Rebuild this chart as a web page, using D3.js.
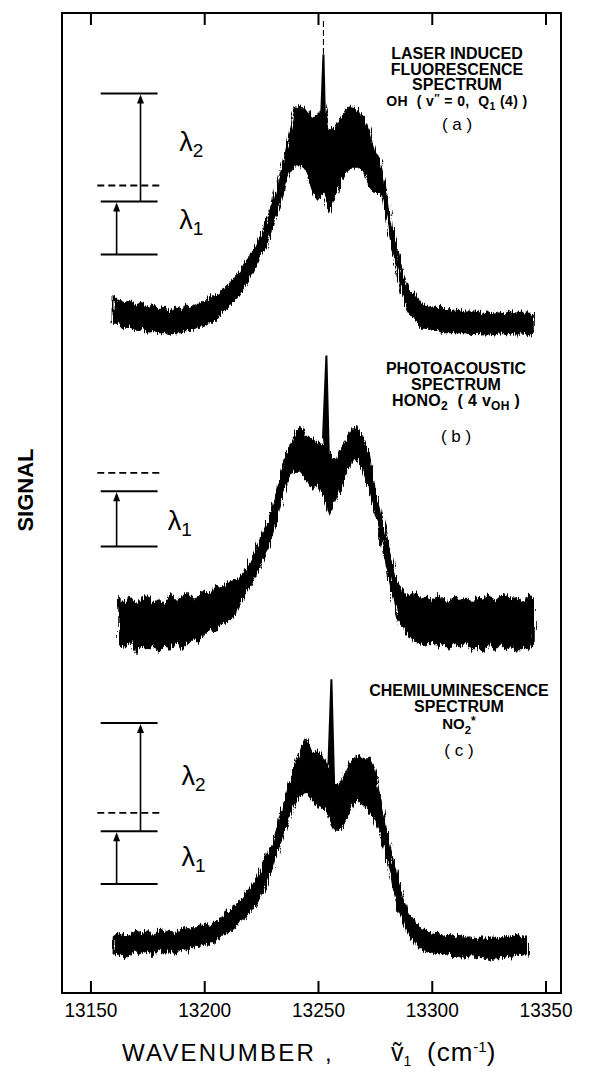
<!DOCTYPE html>
<html>
<head>
<meta charset="utf-8">
<script src="https://cdn.jsdelivr.net/npm/d3@7"></script>
<style>
  html, body { margin: 0; padding: 0; background: #fff; }
  svg { display: block; font-family: "Liberation Sans", Arial, Helvetica, sans-serif; }
  text { white-space: pre; }
</style>
</head>
<body>
<svg id="chart" width="590" height="1073"></svg>
<script>
// ---- sampled spectra (wavenumber in cm^-1, relative signal 0..100 per trace) ----
const wavenumbers = [
  13160, 13162.5, 13165, 13167.5, 13170, 13172.5, 13175, 13177.5, 13180, 13182.5,
  13185, 13187.5, 13190, 13192.5, 13195, 13197.5, 13200, 13202.5, 13205, 13207.5,
  13210, 13212.5, 13215, 13217.5, 13220, 13222.5, 13225, 13227.5, 13230, 13232.5,
  13235, 13237.5, 13240, 13242.5, 13245, 13247.5, 13250, 13252.5, 13255, 13257.5,
  13260, 13262.5, 13265, 13267.5, 13270, 13272.5, 13275, 13277.5, 13280, 13282.5,
  13285, 13287.5, 13290, 13292.5, 13295, 13297.5, 13300, 13302.5, 13305, 13307.5,
  13310, 13312.5, 13315, 13317.5, 13320, 13322.5, 13325, 13327.5, 13330, 13332.5,
  13335, 13337.5, 13340, 13342.5, 13345
];

// (a) OH laser induced fluorescence: upper and lower edge of the noisy trace
const ohHigh = [17,15,14,15,13,14,11,13,11,12, 10,12,11,13,12,14,14,17,17,19,
  21,24,27,31,34,38,43,50,57,67, 76,87,99,100,97,94,96,100,89,90,
  94,98,100,97,95,89,80,74,63,48, 36,26,20,18,14,13,12,13,11,11,
  10,11,10,10,10,9,10,9,10,9, 10,9,10,9,9];
const ohLow = [6,5,3,4,2,3,1,2,1,1, 0,1,1,2,2,3,4,6,6,10,
  12,14,17,21,24,29,34,39,47,55, 64,71,74,74,70,63,59,62,54,61,
  67,71,73,73,71,65,62,62,52,38, 27,17,10,7,3,3,2,2,1,1,
  1,1,1,0,1,0,0,0,1,0, 1,0,1,0,1];
const ohPeakWn = [13251.2, 13252.4, 13253.6];
const ohPeakSignal = [90, 122, 70];

// (b) HONO2 photoacoustic
const honoHigh = [null,23,20,23,20,22,24,20,22,20, 24,21,23,25,22,23,26,24,28,27,
  29,30,31,34,38,43,49,55,62,71, 81,89,95,97,93,92,90,89,85,82,
  87,92,96,97,91,85,71,61,50,39, 29,26,23,25,22,23,21,24,22,20,
  24,21,23,20,23,22,24,21,23,24, 22,23,20,24,22];
const honoLow = [null,3,1,4,-1,2,0,3,-1,2, 0,4,0,3,5,3,7,9,8,11,
  12,14,20,23,27,32,37,43,50,60, 69,76,78,77,74,70,73,67,59,65,
  70,78,82,83,78,69,59,48,37,25, 14,9,6,4,3,2,4,1,3,0,
  3,1,4,0,2,-1,3,0,3,0, 2,-1,2,0,3];
const honoPeakWn = [13252.2, 13253.7, 13255.2];
const honoPeakSignal = [92, 128, 66];

// (c) NO2* chemiluminescence
const no2High = [10,12,10,11,13,11,13,10,13,12, 13,11,14,13,14,14,16,15,17,18,
  21,23,25,28,31,35,40,46,51,60, 68,77,85,92,96,90,91,87,83,76,
  77,82,87,89,87,88,83,70,58,46, 35,26,20,17,14,13,11,12,10,11,
  10,11,10,10,9,10,9,10,9,10, 10,11,10,10,null];
const no2Low = [2,3,1,3,4,3,4,2,5,3, 4,3,5,4,6,6,7,7,9,10,
  12,13,16,18,21,24,28,33,40,48, 56,63,68,72,73,70,67,66,63,56,
  57,61,67,70,67,65,61,55,45,34, 23,17,11,8,5,4,3,3,2,3,
  1,2,1,2,1,1,0,1,1,2, 1,3,2,3,null];
const no2PeakWn = [13254.6, 13255.9, 13257.2];
const no2PeakSignal = [85, 122, 72];

const tickValues = [13150, 13200, 13250, 13300, 13350];

// ---- layout ----
const frame = { left: 62, right: 561, top: 13, bottom: 993 };
const svg = d3.select("#chart");

// ragged edge texture for the recorded traces
const defs = svg.append("defs");
const grain = defs.append("filter").attr("id", "grain")
  .attr("x", "-5%").attr("y", "-10%").attr("width", "110%").attr("height", "120%");
grain.append("feTurbulence")
  .attr("type", "fractalNoise").attr("baseFrequency", "0.7 0.06")
  .attr("numOctaves", 2).attr("seed", 7).attr("result", "noise");
grain.append("feDisplacementMap")
  .attr("in", "SourceGraphic").attr("in2", "noise")
  .attr("scale", 9).attr("xChannelSelector", "R").attr("yChannelSelector", "G");

const x = d3.scaleLinear().domain([13137.5, 13356.8]).range([frame.left, frame.right]);

// each trace gets its own vertical band inside the common frame
const panels = [
  {
    high: ohHigh, low: ohLow, peakWn: ohPeakWn, peakSignal: ohPeakSignal,
    range: [335, 105], markerAbovePeak: true,
    levels: [35, 58, 105], virtual: 65, labelWn: 13189, labelSignal: [50, 84],
    title: [
      { size: 16, weight: "bold", dy: 0, segs: [["LASER INDUCED"]] },
      { size: 16, weight: "bold", dy: 15.5, segs: [["FLUORESCENCE"]] },
      { size: 16, weight: "bold", dy: 30.5, segs: [["SPECTRUM"]] },
      { size: 14, weight: "bold", dy: 47, ls: 0.4, segs: [["OH  ( v"], ["\u2033", "sup"], [" = 0,  Q"], ["1", "sub"], [" (4) )"]] },
      { size: 17, weight: "normal", dy: 71, segs: [["( a )"]] }
    ],
    titleX: 457, titleY: 59
  },
  {
    high: honoHigh, low: honoLow, peakWn: honoPeakWn, peakSignal: honoPeakSignal,
    range: [650, 420],
    levels: [45, 69], virtual: 77, labelWn: 13184, labelSignal: [56],
    title: [
      { size: 16, weight: "bold", dy: 0, segs: [["PHOTOACOUSTIC"]] },
      { size: 16, weight: "bold", dy: 15.5, segs: [["SPECTRUM"]] },
      { size: 16, weight: "bold", dy: 31.5, ls: 0.3, segs: [["HONO"], ["2", "sub"], ["  ( 4 v"], ["OH", "sub"], [" )"]] },
      { size: 17, weight: "normal", dy: 68, segs: [["( b )"]] }
    ],
    titleX: 456, titleY: 374
  },
  {
    high: no2High, low: no2Low, peakWn: no2PeakWn, peakSignal: no2PeakSignal,
    range: [960, 730],
    levels: [33, 56, 103], virtual: 64, labelWn: 13190, labelSignal: [45, 80],
    title: [
      { size: 16, weight: "bold", dy: 0, segs: [["CHEMILUMINESCENCE"]] },
      { size: 16, weight: "bold", dy: 16, segs: [["SPECTRUM"]] },
      { size: 15, weight: "bold", dy: 33, segs: [["NO"], ["2", "sub"], ["*", "sup"]] },
      { size: 17, weight: "normal", dy: 60, segs: [["( c )"]] }
    ],
    titleX: 459, titleY: 696
  }
];

// energy-level sketch, positioned in wavenumber units
const levelSpan = [13154.5, 13179.5];
const virtualSpan = [13153, 13182];
const arrowWn = [13161.5, 13172];

function richText(g, cx, cy, line) {
  const t = g.append("text")
    .attr("x", cx).attr("y", cy)
    .attr("text-anchor", "middle")
    .attr("font-size", line.size)
    .attr("font-weight", line.weight)
    .attr("letter-spacing", line.ls || 0)
    .attr("fill", "#000");
  let shift = 0;
  line.segs.forEach(([str, kind]) => {
    let target = 0, fs = line.size;
    if (kind === "sub") { target = line.size * 0.3; fs = line.size * 0.75; }
    if (kind === "sup") { target = -line.size * 0.3; fs = line.size * 0.8; }
    t.append("tspan").attr("dy", target - shift).attr("font-size", fs).text(str);
    shift = target;
  });
}

const traces = svg.append("g").attr("filter", "url(#grain)");
const notes = svg.append("g");

panels.forEach(p => {
  const y = d3.scaleLinear().domain([0, 100]).range(p.range);
  const idx = d3.range(wavenumbers.length);

  const band = d3.area()
    .defined(i => p.high[i] != null && p.low[i] != null)
    .x(i => x(wavenumbers[i]))
    .y0(i => y(p.low[i]))
    .y1(i => y(p.high[i]));

  traces.append("path")
    .attr("d", band(idx))
    .attr("fill", "#000")
    .attr("stroke", "#000")
    .attr("stroke-width", 1.2)
    .attr("stroke-linejoin", "miter");

  // narrow central line
  const peakLine = d3.line()
    .x(i => x(p.peakWn[i]))
    .y(i => y(p.peakSignal[i]));
  notes.append("path")
    .attr("d", peakLine(d3.range(p.peakWn.length)))
    .attr("fill", "#000")
    .attr("stroke", "#000")
    .attr("stroke-width", 2)
    .attr("stroke-linejoin", "miter");

  if (p.markerAbovePeak) {
    const iTop = d3.maxIndex(p.peakSignal);
    notes.append("line")
      .attr("x1", x(p.peakWn[iTop])).attr("x2", x(p.peakWn[iTop]))
      .attr("y1", frame.top + 8).attr("y2", y(p.peakSignal[iTop]))
      .attr("stroke", "#000").attr("stroke-width", 1.1)
      .attr("stroke-dasharray", "6,3");
  }

  // energy-level diagram
  const dg = notes.append("g");
  p.levels.forEach(l => {
    dg.append("line")
      .attr("x1", x(levelSpan[0])).attr("x2", x(levelSpan[1]))
      .attr("y1", y(l)).attr("y2", y(l))
      .attr("stroke", "#000").attr("stroke-width", 2);
  });
  dg.append("line")
    .attr("x1", x(virtualSpan[0])).attr("x2", x(virtualSpan[1]))
    .attr("y1", y(p.virtual)).attr("y2", y(p.virtual))
    .attr("stroke", "#000").attr("stroke-width", 1.8)
    .attr("stroke-dasharray", "7,4");
  for (let i = 0; i < p.levels.length - 1; i++) {
    const ax = x(arrowWn[i]);
    const y0 = y(p.levels[i]), y1 = y(p.levels[i + 1]);
    dg.append("line")
      .attr("x1", ax).attr("x2", ax)
      .attr("y1", y0).attr("y2", y1 + 6)
      .attr("stroke", "#000").attr("stroke-width", 1.6);
    dg.append("path")
      .attr("d", `M${ax - 3.5},${y1 + 10} L${ax + 3.5},${y1 + 10} L${ax},${y1 + 1} Z`)
      .attr("fill", "#000");
    const lt = dg.append("text")
      .attr("x", x(p.labelWn))
      .attr("y", y(p.labelSignal[i]) + 9)
      .attr("font-size", 27)
      .attr("fill", "#000");
    lt.append("tspan").text("\u03bb");
    lt.append("tspan").attr("dy", 6).attr("font-size", 19).text(String(i + 1));
  }

  p.title.forEach(line => richText(notes, p.titleX, p.titleY + line.dy, line));
});

// frame and axes
svg.append("rect")
  .attr("x", frame.left).attr("y", frame.top)
  .attr("width", frame.right - frame.left).attr("height", frame.bottom - frame.top)
  .attr("fill", "none").attr("stroke", "#000").attr("stroke-width", 2);

const bottomAxis = svg.append("g")
  .attr("transform", `translate(0,${frame.bottom})`)
  .call(d3.axisBottom(x).tickValues(tickValues).tickSizeInner(-12).tickSizeOuter(0)
    .tickPadding(9).tickFormat(d3.format("d")));
bottomAxis.select(".domain").remove();
bottomAxis.selectAll(".tick line").attr("stroke-width", 2);
bottomAxis.selectAll(".tick text")
  .attr("font-size", 21)
  .attr("font-family", "'Liberation Sans', Arial, sans-serif")
  .attr("textLength", 53)
  .attr("lengthAdjust", "spacingAndGlyphs")
  .attr("fill", "#000");

const topAxis = svg.append("g")
  .attr("transform", `translate(0,${frame.top})`)
  .call(d3.axisTop(x).tickValues(tickValues).tickSizeInner(-12).tickSizeOuter(0).tickFormat(""));
topAxis.select(".domain").remove();
topAxis.selectAll(".tick line").attr("stroke-width", 2);

// axis titles
const xt = svg.append("text")
  .attr("x", 122).attr("y", 1061)
  .attr("font-size", 24).attr("fill", "#000");
xt.append("tspan").attr("letter-spacing", 2.2).text("WAVENUMBER ,");
xt.append("tspan").attr("x", 391).attr("font-size", 25).text("\u1e7d");
xt.append("tspan").attr("dy", 5).attr("font-size", 14).text("1");
xt.append("tspan").attr("x", 427).attr("dy", -5).attr("font-size", 26).attr("letter-spacing", 1).text("(cm");
xt.append("tspan").attr("dy", -9).attr("font-size", 15).text("-1");
xt.append("tspan").attr("dy", 9).attr("font-size", 26).text(")");

svg.append("text")
  .attr("transform", "translate(33,490) rotate(-90)")
  .attr("text-anchor", "middle")
  .attr("font-size", 22).attr("font-weight", "bold")
  .attr("fill", "#000")
  .text("SIGNAL");
</script>
</body>
</html>
